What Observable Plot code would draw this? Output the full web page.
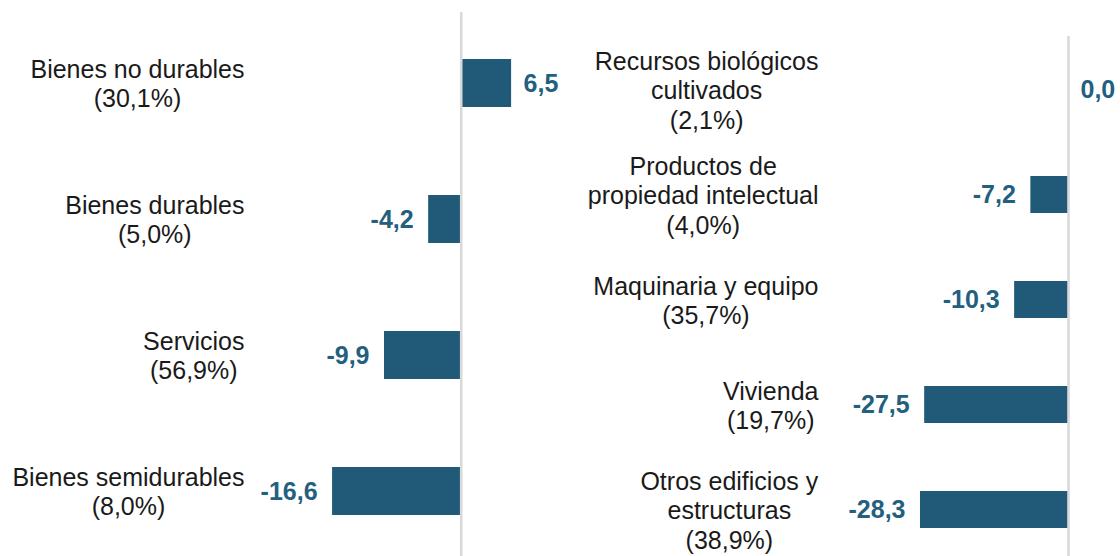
<!DOCTYPE html>
<html><head><meta charset="utf-8">
<script src="https://cdn.jsdelivr.net/npm/d3@7"></script>
<script src="https://cdn.jsdelivr.net/npm/@observablehq/plot@0.6"></script>
<style>
html,body{margin:0;padding:0;background:#fff;}
#chart{display:flex;width:1120px;height:556px;}
#chart svg{display:block;}
</style></head><body><div id="chart"></div>
<script>
const leftCategories = ["Bienes no durables", "Bienes durables", "Servicios", "Bienes semidurables"];
const leftShares = ["30,1%", "5,0%", "56,9%", "8,0%"];
const leftValues = [6.5, -4.2, -9.9, -16.6];

const rightCategories = ["Recursos biológicos\ncultivados", "Productos de\npropiedad intelectual", "Maquinaria y equipo", "Vivienda", "Otros edificios y\nestructuras"];
const rightShares = ["2,1%", "4,0%", "35,7%", "19,7%", "38,9%"];
const rightValues = [0.0, -7.2, -10.3, -27.5, -28.3];

const BAR = "#215a78", VAL = "#23607f", FONT = "'Liberation Sans', Arial, sans-serif";
const fmt = v => v.toFixed(1).replace(".", ",");

function panel({cats, shares, values, xDomain, marginLeft, marginTop, yRange, pad}) {
  const data = cats.map((c, i) => ({cat: c, label: `${c}\n(${shares[i]})`, value: values[i]}));
  return Plot.plot({
    width: 560, height: 556, marginLeft, marginRight: 0, marginTop, marginBottom: 0,
    style: {fontFamily: FONT, background: "transparent", overflow: "visible"},
    x: {domain: xDomain, axis: null},
    y: {domain: cats, range: yRange, paddingInner: pad, paddingOuter: pad / 2, axis: null},
    marks: [
      Plot.barX(data, {x: "value", y: "cat", fill: BAR}),
      Plot.ruleX([0], {stroke: "#d9d9d9", strokeWidth: 2.6}),
      Plot.text(data, {y: "cat", text: "label", frameAnchor: "left", textAnchor: "end", dx: -6, fontSize: 25, lineHeight: 1.17, fill: "#1a1a1a", ariaDescription: "cat-labels"}),
      Plot.text(data.filter(d => d.value >= 0), {x: "value", y: "cat", text: d => fmt(d.value), textAnchor: "start", dx: 12, fontSize: 25, fontWeight: "bold", fill: VAL}),
      Plot.text(data.filter(d => d.value < 0), {x: "value", y: "cat", text: d => fmt(d.value), textAnchor: "end", dx: -15, fontSize: 25, fontWeight: "bold", fill: VAL})
    ]
  });
}

const chart = document.getElementById("chart");
const left = panel({cats: leftCategories, shares: leftShares, values: leftValues,
  xDomain: [-27.19, 12.81], marginLeft: 250, marginTop: 12, yRange: [13.35, 560.15], pad: 0.645});
const right = panel({cats: rightCategories, shares: rightShares, values: rightValues,
  xDomain: [-46.65, 9.94], marginLeft: 264, marginTop: 36, yRange: [36.15, 561.65], pad: 0.652});
chart.appendChild(left);
chart.appendChild(right);

for (const svg of [left, right]) {
  let g = svg.querySelector('g[aria-description="cat-labels"]');
  if (!g) g = svg.querySelector('g[aria-label="text"]');
  if (!g) continue;
  for (const t of g.querySelectorAll("text")) {
    const w = t.getBBox().width;
    t.setAttribute("text-anchor", "middle");
    t.style.textAnchor = "middle";
    t.setAttribute("transform", (t.getAttribute("transform") || "") + ` translate(${-w / 2},0)`);
  }
}
</script>
</body></html>
